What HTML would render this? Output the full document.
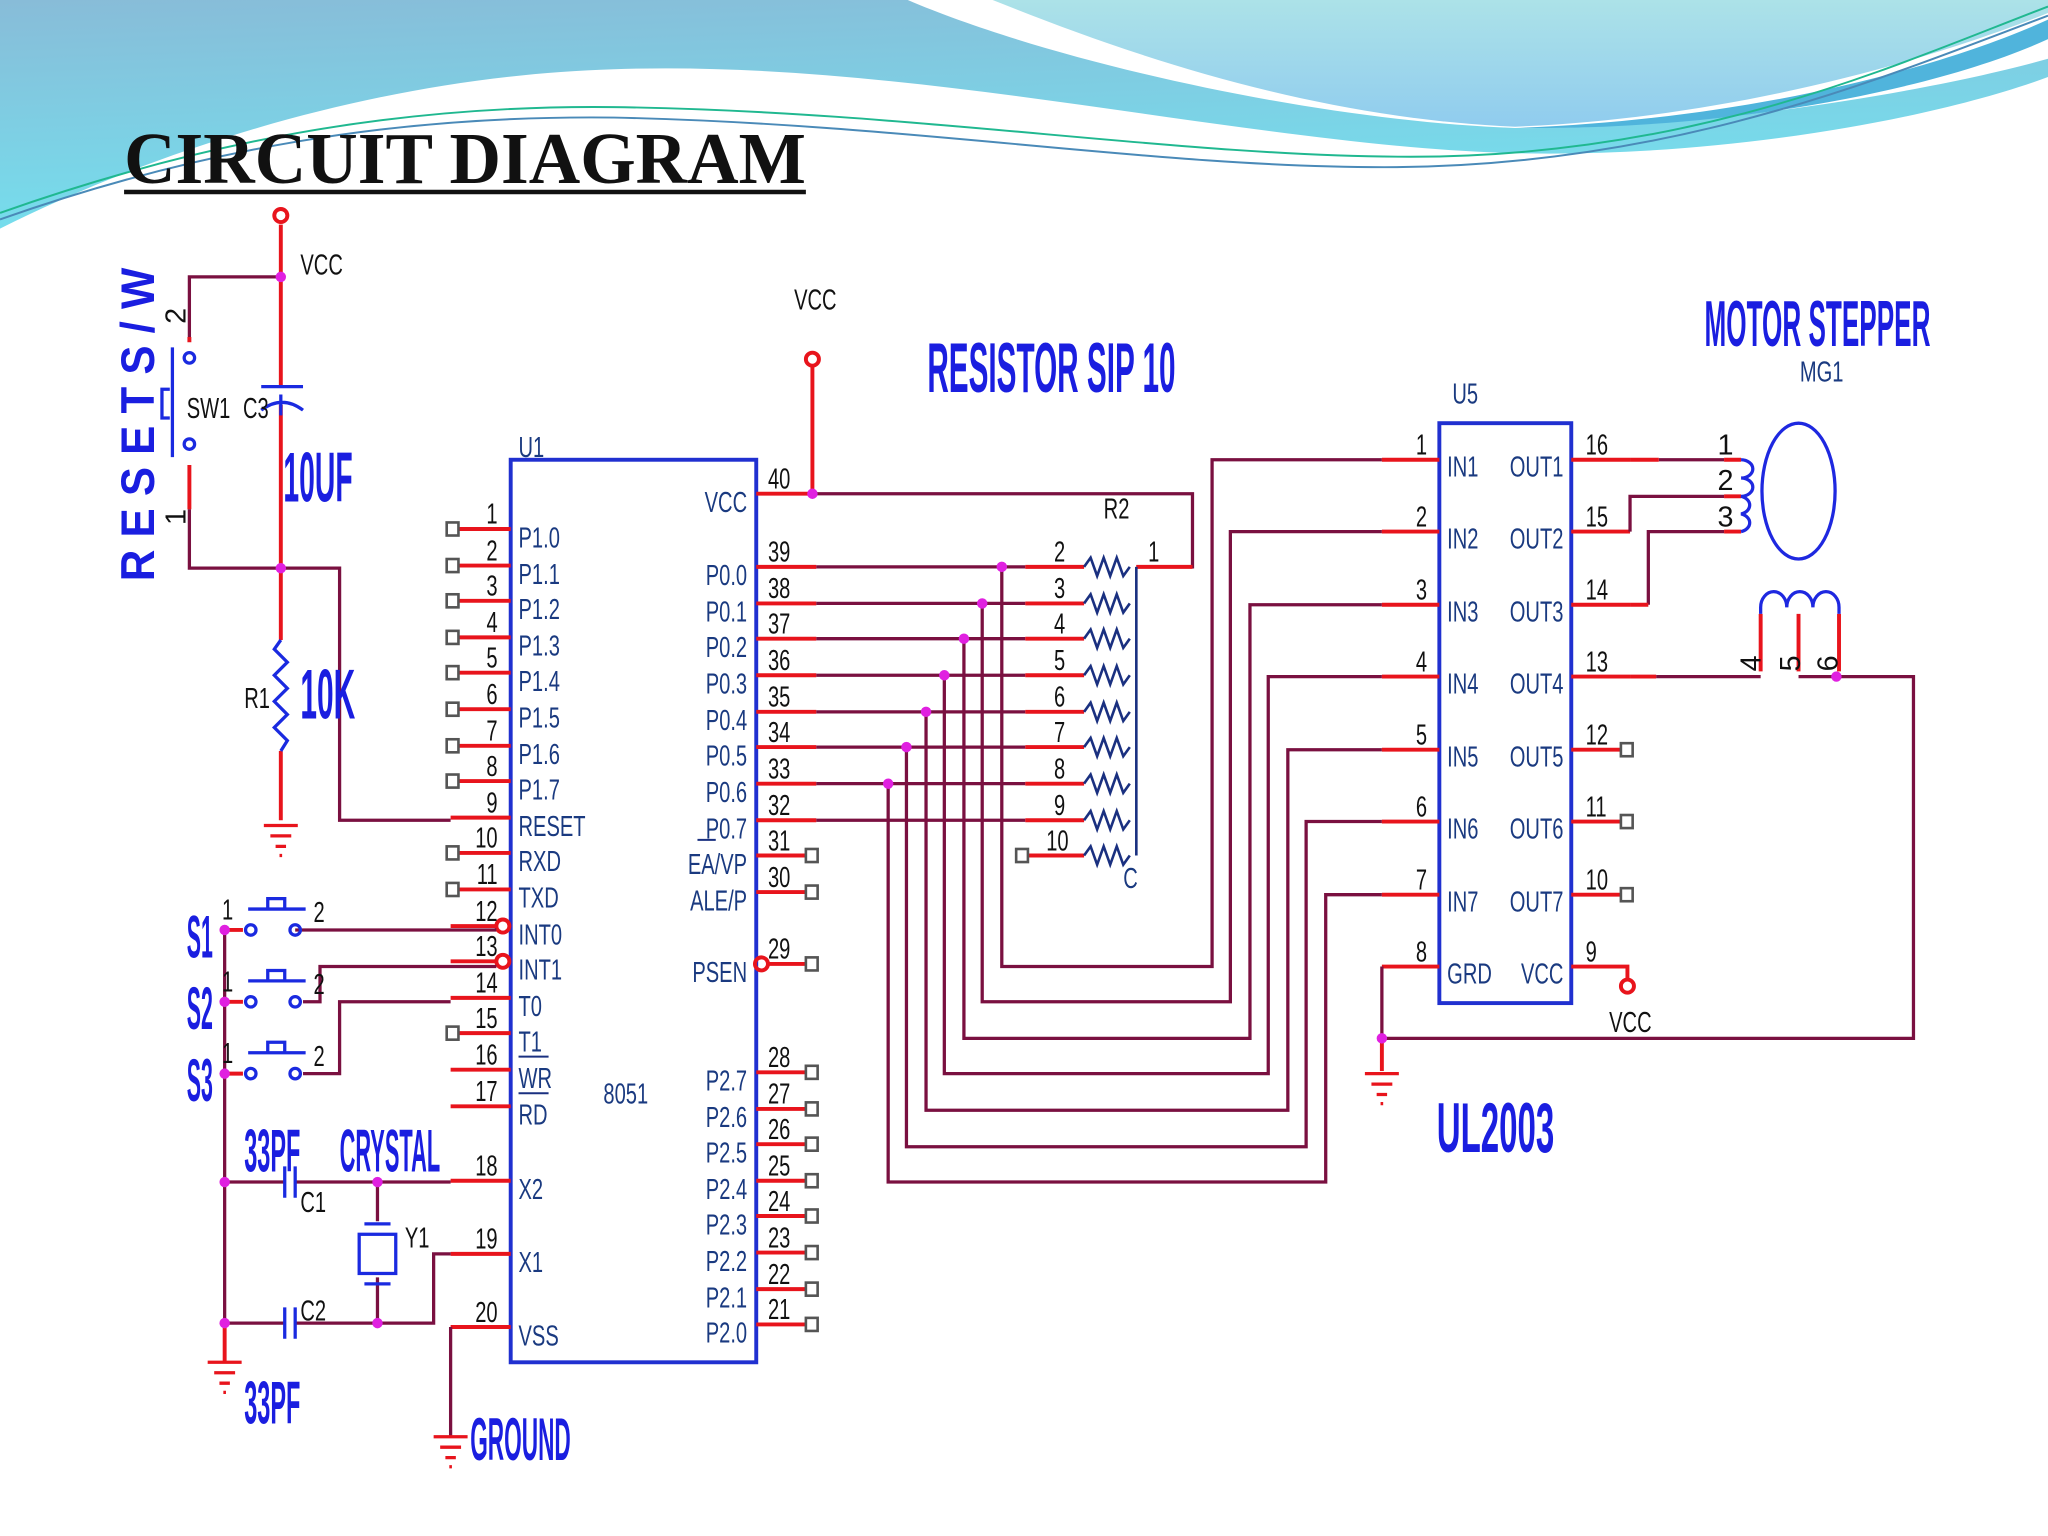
<!DOCTYPE html>
<html><head><meta charset="utf-8"><style>
html,body{margin:0;padding:0;background:#fff;}
svg{display:block;}
.n{font-family:"Liberation Sans",sans-serif;font-size:22px;fill:#111;}
.m{font-family:"Liberation Sans",sans-serif;font-size:22px;fill:#1a3a80;}
.c text, text.c{transform-box:fill-box;transform-origin:left center;transform:scaleX(0.7);}
.e text{transform-origin:right center;}
.b{font-family:"Liberation Sans",sans-serif;font-weight:bold;fill:#1a1ee0;}
.r{stroke:#e8141c;stroke-width:3;fill:none;}
.w{stroke:#7a1040;stroke-width:2.5;fill:none;}
.bx{stroke:#2030d0;stroke-width:3;fill:none;}
.sq{stroke:#555;stroke-width:2;fill:#fff;}
.d{fill:#e020e0;}
</style></head><body>
<svg width="2048" height="1536" viewBox="0 0 1568 1176" xmlns="http://www.w3.org/2000/svg">
<defs>
<linearGradient id="g1" x1="0" y1="0" x2="0.3" y2="1"><stop offset="0" stop-color="#88bcd8"/><stop offset="1" stop-color="#74e0ee"/></linearGradient>
<linearGradient id="g2" x1="0" y1="0" x2="0" y2="1"><stop offset="0" stop-color="#ace2e8"/><stop offset="1" stop-color="#90ccee"/></linearGradient>
</defs>
<rect width="1568" height="1176" fill="#fff"/>
<path d="M0,0 L1568,0 L1568,59 C1470,95 1300,122 1150,117 C950,110 700,45 470,53 C300,58 130,110 0,175 Z" fill="url(#g1)"/>
<path d="M695,0 C800,45 1000,92 1160,98 C1300,100 1480,70 1568,45 L1568,0 Z" fill="#fff"/>
<path d="M760,0 C860,40 1000,90 1160,97 C1330,90 1480,45 1568,10 L1568,0 Z" fill="url(#g2)"/>
<path d="M1160,98 C1330,92 1480,55 1568,15 L1568,30 C1480,70 1320,100 1160,98 Z" fill="#50b4dc"/>
<path d="M0,163 C150,110 300,80 470,82 C700,85 900,120 1080,120 C1300,120 1450,50 1568,5" stroke="#20b890" stroke-width="1.5" fill="none"/>
<path d="M0,168 C150,115 300,88 470,90 C700,95 880,128 1060,128 C1280,128 1440,60 1568,12" stroke="#4a8ab8" stroke-width="1.5" fill="none"/>

<text x="95" y="140" textLength="522" lengthAdjust="spacingAndGlyphs" style="font-family:'Liberation Serif',serif;font-weight:bold;font-size:56px;fill:#111;">CIRCUIT DIAGRAM</text>
<line x1="95" y1="147" x2="617" y2="147" stroke="#111" stroke-width="3.5"/>

<!-- U1 -->
<rect x="391" y="352" width="188" height="691" class="bx"/>
<text x="397" y="350" class="m c">U1</text>
<text x="462" y="845" class="m c">8051</text>

<!-- left pins -->
<g class="r">
<path d="M350,405H391M350,433H391M350,460H391M350,488H391M350,515H391M350,543H391M350,571H391M350,598H391M345,626H391M350,653H391M350,681H391M345,709H380M345,736H380M345,764H391M350,791H391M345,819H391M345,847H391M345,904H391M345,960H391M345,1016H391"/>
</g>
<circle cx="385" cy="709" r="5" class="r" stroke-width="2"/>
<circle cx="385" cy="736" r="5" class="r" stroke-width="2"/>
<g class="sq">
<rect x="342" y="400" width="9" height="10"/><rect x="342" y="428" width="9" height="10"/><rect x="342" y="455" width="9" height="10"/><rect x="342" y="483" width="9" height="10"/><rect x="342" y="510" width="9" height="10"/><rect x="342" y="538" width="9" height="10"/><rect x="342" y="566" width="9" height="10"/><rect x="342" y="593" width="9" height="10"/><rect x="342" y="648" width="9" height="10"/><rect x="342" y="676" width="9" height="10"/><rect x="342" y="786" width="9" height="10"/>
</g>
<g class="n c e" text-anchor="end">
<text x="381" y="401">1</text><text x="381" y="429">2</text><text x="381" y="456">3</text><text x="381" y="484">4</text><text x="381" y="511">5</text><text x="381" y="539">6</text><text x="381" y="567">7</text><text x="381" y="594">8</text><text x="381" y="622">9</text><text x="381" y="649">10</text><text x="381" y="677">11</text><text x="381" y="705">12</text><text x="381" y="732">13</text><text x="381" y="760">14</text><text x="381" y="787">15</text><text x="381" y="815">16</text><text x="381" y="843">17</text><text x="381" y="900">18</text><text x="381" y="956">19</text><text x="381" y="1012">20</text>
</g>
<g class="m c">
<text x="397" y="419">P1.0</text><text x="397" y="447">P1.1</text><text x="397" y="474">P1.2</text><text x="397" y="502">P1.3</text><text x="397" y="529">P1.4</text><text x="397" y="557">P1.5</text><text x="397" y="585">P1.6</text><text x="397" y="612">P1.7</text><text x="397" y="640">RESET</text><text x="397" y="667">RXD</text><text x="397" y="695">TXD</text><text x="397" y="723">INT0</text><text x="397" y="750">INT1</text><text x="397" y="778">T0</text><text x="397" y="805">T1</text><text x="397" y="833">WR</text><text x="397" y="861">RD</text><text x="397" y="918">X2</text><text x="397" y="974">X1</text><text x="397" y="1030">VSS</text>
</g>
<line x1="397" y1="809" x2="420" y2="809" stroke="#1a3080" stroke-width="1.5"/>
<line x1="397" y1="837" x2="420" y2="837" stroke="#1a3080" stroke-width="1.5"/>

<!-- right pins -->
<g class="r">
<path d="M579,378H622M579,434H625M579,462H625M579,489H625M579,517H625M579,545H625M579,572H625M579,600H625M579,628H625M579,655H618M579,683H618M588,738H618M579,821H618M579,849H618M579,876H618M579,904H618M579,931H618M579,959H618M579,987H618M579,1014H618"/>
</g>
<circle cx="583" cy="738" r="5" class="r" stroke-width="2"/>
<g class="sq">
<rect x="617" y="650" width="9" height="10"/><rect x="617" y="678" width="9" height="10"/><rect x="617" y="733" width="9" height="10"/><rect x="617" y="816" width="9" height="10"/><rect x="617" y="844" width="9" height="10"/><rect x="617" y="871" width="9" height="10"/><rect x="617" y="899" width="9" height="10"/><rect x="617" y="926" width="9" height="10"/><rect x="617" y="954" width="9" height="10"/><rect x="617" y="982" width="9" height="10"/><rect x="617" y="1009" width="9" height="10"/>
</g>
<g class="n c">
<text x="588" y="374">40</text><text x="588" y="430">39</text><text x="588" y="458">38</text><text x="588" y="485">37</text><text x="588" y="513">36</text><text x="588" y="541">35</text><text x="588" y="568">34</text><text x="588" y="596">33</text><text x="588" y="624">32</text><text x="588" y="651">31</text><text x="588" y="679">30</text><text x="588" y="734">29</text><text x="588" y="817">28</text><text x="588" y="845">27</text><text x="588" y="872">26</text><text x="588" y="900">25</text><text x="588" y="927">24</text><text x="588" y="955">23</text><text x="588" y="983">22</text><text x="588" y="1010">21</text>
</g>
<g class="m c e" text-anchor="end">
<text x="572" y="392">VCC</text><text x="572" y="448">P0.0</text><text x="572" y="476">P0.1</text><text x="572" y="503">P0.2</text><text x="572" y="531">P0.3</text><text x="572" y="559">P0.4</text><text x="572" y="586">P0.5</text><text x="572" y="614">P0.6</text><text x="572" y="642">P0.7</text><text x="572" y="669">EA/VP</text><text x="572" y="697">ALE/P</text><text x="572" y="752">PSEN</text><text x="572" y="835">P2.7</text><text x="572" y="863">P2.6</text><text x="572" y="890">P2.5</text><text x="572" y="918">P2.4</text><text x="572" y="945">P2.3</text><text x="572" y="973">P2.2</text><text x="572" y="1001">P2.1</text><text x="572" y="1028">P2.0</text>
</g>
<line x1="534" y1="643" x2="548" y2="643" stroke="#1a3080" stroke-width="1.5"/>

<!-- VCC at pin 40 -->
<line x1="622" y1="378" x2="622" y2="281" class="r"/>
<circle cx="622" cy="275" r="5" class="r" stroke-width="2"/>
<text x="608" y="237" class="n c">VCC</text>
<text x="710" y="300" class="b" font-size="54" textLength="190" lengthAdjust="spacingAndGlyphs">RESISTOR SIP 10</text>

<!-- wires P0 -->
<g class="w">
<path d="M622,378H913V434H870"/>
<path d="M625,434H785M625,462H785M625,489H785M625,517H785M625,545H785M625,572H785M625,600H785M625,628H785"/>
<path d="M767,434V740H928V352H1058"/>
<path d="M752,462V767H942V407H1058"/>
<path d="M738,489V795H957V463H1058"/>
<path d="M723,517V822H971V518H1058"/>
<path d="M709,545V850H986V574H1058"/>
<path d="M694,572V878H1000V629H1058"/>
<path d="M680,600V905H1015V685H1058"/>
</g>
<g class="d">
<circle cx="622" cy="378" r="4"/><circle cx="767" cy="434" r="4"/><circle cx="752" cy="462" r="4"/><circle cx="738" cy="489" r="4"/><circle cx="723" cy="517" r="4"/><circle cx="709" cy="545" r="4"/><circle cx="694" cy="572" r="4"/><circle cx="680" cy="600" r="4"/>
</g>

<!-- R2 -->
<g class="r">
<path d="M785,434H830M785,462H830M785,489H830M785,517H830M785,545H830M785,572H830M785,600H830M785,628H830M787,655H830M870,434H913"/>
</g>
<g fill="none" stroke="#1a3080" stroke-width="2">
<path d="M830,434l5,-7l5,14l5,-14l5,14l5,-14l5,14l5,-7"/>
<path d="M830,462l5,-7l5,14l5,-14l5,14l5,-14l5,14l5,-7"/>
<path d="M830,489l5,-7l5,14l5,-14l5,14l5,-14l5,14l5,-7"/>
<path d="M830,517l5,-7l5,14l5,-14l5,14l5,-14l5,14l5,-7"/>
<path d="M830,545l5,-7l5,14l5,-14l5,14l5,-14l5,14l5,-7"/>
<path d="M830,572l5,-7l5,14l5,-14l5,14l5,-14l5,14l5,-7"/>
<path d="M830,600l5,-7l5,14l5,-14l5,14l5,-14l5,14l5,-7"/>
<path d="M830,628l5,-7l5,14l5,-14l5,14l5,-14l5,14l5,-7"/>
<path d="M830,655l5,-7l5,14l5,-14l5,14l5,-14l5,14l5,-7"/>
<path d="M870,434V655"/>
</g>
<rect x="778" y="650" width="9" height="10" class="sq"/>
<g class="n c">
<text x="807" y="430">2</text><text x="807" y="458">3</text><text x="807" y="485">4</text><text x="807" y="513">5</text><text x="807" y="541">6</text><text x="807" y="568">7</text><text x="807" y="596">8</text><text x="807" y="624">9</text><text x="801" y="651">10</text><text x="879" y="430">1</text><text x="845" y="397">R2</text>
</g>
<text x="860" y="680" class="m c" font-size="17">C</text>

<!-- U5 -->
<rect x="1102" y="324" width="101" height="444" class="bx"/>
<text x="1112" y="309" class="m c">U5</text>
<g class="r">
<path d="M1058,352H1102M1058,407H1102M1058,463H1102M1058,518H1102M1058,574H1102M1058,629H1102M1058,685H1102M1058,740H1102"/>
<path d="M1203,352H1248M1203,407H1248M1203,463H1248M1203,518H1248M1203,574H1242M1203,629H1242M1203,685H1242M1203,740H1246V750"/>
</g>
<circle cx="1246" cy="755" r="5" class="r" stroke-width="2"/>
<text x="1232" y="790" class="n c">VCC</text>
<g class="sq"><rect x="1241" y="569" width="9" height="10"/><rect x="1241" y="624" width="9" height="10"/><rect x="1241" y="680" width="9" height="10"/></g>
<g class="n c">
<text x="1084" y="348">1</text><text x="1084" y="403">2</text><text x="1084" y="459">3</text><text x="1084" y="514">4</text><text x="1084" y="570">5</text><text x="1084" y="625">6</text><text x="1084" y="681">7</text><text x="1084" y="736">8</text>
<text x="1214" y="348">16</text><text x="1214" y="403">15</text><text x="1214" y="459">14</text><text x="1214" y="514">13</text><text x="1214" y="570">12</text><text x="1214" y="625">11</text><text x="1214" y="681">10</text><text x="1214" y="736">9</text>
</g>
<g class="m c">
<text x="1108" y="365">IN1</text><text x="1108" y="420">IN2</text><text x="1108" y="476">IN3</text><text x="1108" y="531">IN4</text><text x="1108" y="587">IN5</text><text x="1108" y="642">IN6</text><text x="1108" y="698">IN7</text><text x="1108" y="753">GRD</text>
</g>
<g class="m c e" text-anchor="end">
<text x="1197" y="365">OUT1</text><text x="1197" y="420">OUT2</text><text x="1197" y="476">OUT3</text><text x="1197" y="531">OUT4</text><text x="1197" y="587">OUT5</text><text x="1197" y="642">OUT6</text><text x="1197" y="698">OUT7</text><text x="1197" y="753">VCC</text>
</g>
<text x="1100" y="882" class="b" font-size="54" textLength="90" lengthAdjust="spacingAndGlyphs">UL2003</text>

<!-- motor -->
<g class="w">
<path d="M1270,352H1320M1270,380H1320M1248,407V380H1270M1262,463V407H1320M1268,518H1348"/>
<path d="M1058,740V795H1465V518H1377"/>
</g>
<g class="r"><path d="M1248,352H1270M1248,463H1262M1248,518H1268"/></g>
<path d="M1058,795V820" class="r"/>
<g stroke="#e8141c" stroke-width="2.5"><path d="M1045,822H1071M1050,830H1066M1054,838H1062M1057,845H1059"/></g>
<circle cx="1058" cy="795" r="4" class="d"/>
<g class="r" stroke-width="2.5">
<path d="M1320,352H1333M1320,380H1333M1320,407H1333"/>
<path d="M1348,514V470M1377,514V470M1408,514V470"/>
</g>
<circle cx="1406" cy="518" r="4" class="d"/>
<g fill="none" stroke="#1e28e0" stroke-width="2.5">
<ellipse cx="1377" cy="376" rx="28" ry="52"/>
<path d="M1333,352a9,7 0 0 1 0,14a9,7 0 0 1 0,14a9,7 0 0 1 0,13.5a9,7 0 0 1 0,13.5"/>
<path d="M1348,470v-5a10,12 0 0 1 20,0a10,12 0 0 1 20,0a10,12 0 0 1 20,0v5"/>
</g>
<g class="n">
<text x="1315" y="348">1</text><text x="1315" y="375">2</text><text x="1315" y="403">3</text>
<text transform="translate(1348,514) rotate(-90)">4</text><text transform="translate(1378,514) rotate(-90)">5</text><text transform="translate(1407,514) rotate(-90)">6</text>
</g>
<text x="1378" y="292" class="m c" font-size="20">MG1</text>
<text x="1305" y="265" class="b" font-size="50" textLength="173" lengthAdjust="spacingAndGlyphs">MOTOR STEPPER</text>

<!-- reset section -->
<text transform="translate(118,445) rotate(-90)" class="b" font-size="36" textLength="240" lengthAdjust="spacingAndGlyphs" style="font-weight:900">R E S E T  S / W</text>
<line x1="215" y1="172" x2="215" y2="296" class="r"/>
<circle cx="215" cy="165" r="5" class="r" stroke-width="2"/>
<text x="230" y="210" class="n c">VCC</text>
<path d="M215,212H145V258" class="w"/>
<path d="M145,258V262M145,356V390" class="r"/>
<path d="M145,390V435H260V628H345" class="w"/>
<path d="M215,310V490M215,575V628" class="r"/>
<g fill="none" stroke="#1a2ae0" stroke-width="2.5">
<circle cx="145" cy="274" r="4"/><circle cx="145" cy="340" r="4"/>
<path d="M132,266V350M130,298h-6v22h6"/>
<path d="M200,296H232M200,314q16,-12 32,0M215,302V318"/>
<path d="M215,490l-5,7l10,10l-10,10l10,10l-10,10l10,10l-10,10l10,10l-5,8"/>
</g>
<g stroke="#e8141c" stroke-width="2.5"><path d="M202,632H228M207,640H223M211,648H219M214,655H216"/></g>
<g class="d"><circle cx="215" cy="212" r="4"/><circle cx="215" cy="435" r="4"/></g>
<g class="n">
<text transform="translate(142,248) rotate(-90)">2</text><text transform="translate(142,402) rotate(-90)">1</text>
</g>
<g class="n c"><text x="143" y="320">SW1</text><text x="186" y="320">C3</text><text x="187" y="542">R1</text></g>
<text x="217" y="384" class="b" font-size="54" textLength="53" lengthAdjust="spacingAndGlyphs">10UF</text>
<text x="230" y="550" class="b" font-size="54" textLength="42" lengthAdjust="spacingAndGlyphs">10K</text>

<!-- switches -->
<g class="w">
<path d="M226,712H380M232,767H245V740H380M232,822H260V767H345"/>
<path d="M172,712V1013"/>
<path d="M172,905H218M226,905H345"/>
<path d="M289,905V935M289,978V1013"/>
<path d="M172,1013H218M226,1013H332V960H345"/>
<path d="M345,1016V1100"/>
</g>
<g class="r"><path d="M172,712H186M172,767H186M172,822H186"/></g>
<g fill="none" stroke="#1a2ae0" stroke-width="2.5">
<circle cx="192" cy="712" r="4"/><circle cx="226" cy="712" r="4"/><path d="M190,696H234M205,696V688H218V696"/>
<circle cx="192" cy="767" r="4"/><circle cx="226" cy="767" r="4"/><path d="M190,751H234M205,751V743H218V751"/>
<circle cx="192" cy="822" r="4"/><circle cx="226" cy="822" r="4"/><path d="M190,806H234M205,806V798H218V806"/>
<path d="M218,893V917M226,893V917M218,1001V1025M226,1001V1025"/>
<rect x="275" y="945" width="28" height="30"/><path d="M279,937H299M279,983H299"/>
</g>
<g stroke="#e8141c" stroke-width="2.5"><path d="M159,1043H185M164,1051H180M168,1059H176M171,1066H173M332,1100H358M337,1108H353M341,1116H349M344,1123H346"/></g>
<path d="M172,1013V1043" class="r"/>
<g class="d"><circle cx="172" cy="712" r="4"/><circle cx="172" cy="767" r="4"/><circle cx="172" cy="822" r="4"/><circle cx="172" cy="905" r="4"/><circle cx="172" cy="1013" r="4"/><circle cx="289" cy="905" r="4"/><circle cx="289" cy="1013" r="4"/></g>
<g class="n c" font-size="19">
<text x="170" y="704">1</text><text x="240" y="706">2</text><text x="170" y="759">1</text><text x="240" y="761">2</text><text x="170" y="814">1</text><text x="240" y="816">2</text>
<text x="230" y="928">C1</text><text x="230" y="1011">C2</text><text x="310" y="955">Y1</text>
</g>
<g class="b" font-size="46">
<text x="143" y="733" textLength="20" lengthAdjust="spacingAndGlyphs">S1</text>
<text x="143" y="788" textLength="20" lengthAdjust="spacingAndGlyphs">S2</text>
<text x="143" y="843" textLength="20" lengthAdjust="spacingAndGlyphs">S3</text>
<text x="187" y="897" textLength="43" lengthAdjust="spacingAndGlyphs">33PF</text>
<text x="260" y="897" textLength="77" lengthAdjust="spacingAndGlyphs">CRYSTAL</text>
<text x="187" y="1090" textLength="43" lengthAdjust="spacingAndGlyphs">33PF</text>
<text x="360" y="1118" textLength="77" lengthAdjust="spacingAndGlyphs">GROUND</text>
</g>
</svg>
</body></html>
